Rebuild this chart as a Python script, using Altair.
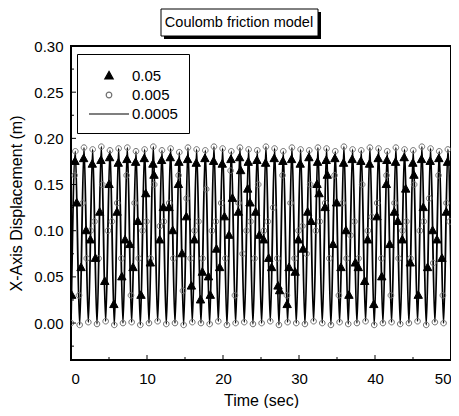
import altair as alt
import pandas as pd

SERIES = ["0.05", "0.005", "0.0005"]

# ---- 0.0005 series (continuous line): troughs and peaks
trough_t = [0.00, 1.14, 2.28, 3.42, 4.56, 5.70, 6.84, 7.98, 9.12, 10.26, 11.40, 12.54, 13.68, 14.82,
            15.96, 17.10, 18.24, 19.38, 20.52, 21.66, 22.80, 23.94, 25.08, 26.22, 27.36, 28.50, 29.64,
            30.78, 31.92, 33.06, 34.20, 35.34, 36.48, 37.62, 38.76, 39.90, 41.04, 42.18, 43.32, 44.46,
            45.60, 46.74, 47.88, 49.02]
trough_y = [0.000, -0.002, 0.001, -0.001, 0.002, -0.002, 0.000, 0.001, -0.002, 0.000, 0.002, -0.001,
            0.000, -0.002, 0.001, 0.000, -0.001, 0.002, -0.002, 0.000, 0.001, -0.001, 0.000, 0.002,
            -0.002, 0.001, 0.000, -0.001, 0.002, 0.000, -0.002, 0.001, -0.001, 0.000, 0.002, -0.002,
            0.000, 0.001, -0.001, 0.000, 0.002, -0.002, 0.001, 0.000]
peak_t = [0.57, 1.71, 2.85, 3.99, 5.13, 6.27, 7.41, 8.55, 9.69, 10.83, 11.97, 13.11, 14.25, 15.39,
          16.53, 17.67, 18.81, 19.95, 21.09, 22.23, 23.37, 24.51, 25.65, 26.79, 27.93, 29.07, 30.21,
          31.35, 32.49, 33.63, 34.77, 35.91, 37.05, 38.19, 39.33, 40.47, 41.61, 42.75, 43.89, 45.03,
          46.17, 47.31, 48.45, 49.59]
peak_y = [0.186, 0.190, 0.188, 0.191, 0.187, 0.189, 0.190, 0.186, 0.188, 0.191, 0.187, 0.189, 0.185,
          0.190, 0.188, 0.187, 0.191, 0.189, 0.186, 0.190, 0.188, 0.187, 0.191, 0.189, 0.186, 0.190,
          0.188, 0.187, 0.190, 0.189, 0.186, 0.191, 0.188, 0.187, 0.190, 0.189, 0.186, 0.190, 0.188,
          0.187, 0.191, 0.189, 0.186, 0.188]
end_t = [50.0]
end_y = [0.05]

# ---- 0.05 series (filled triangles)
tri_top_t = [0.52, 1.66, 2.80, 3.94, 5.08, 6.22, 7.36, 8.50, 9.64, 10.78, 11.92, 13.06, 14.20, 15.34,
             16.48, 17.62, 18.76, 19.90, 21.04, 22.18, 23.32, 24.46, 25.60, 26.74, 27.88, 29.02, 30.16,
             31.30, 32.44, 33.58, 34.72, 35.86, 37.00, 38.14, 39.28, 40.42, 41.56, 42.70, 43.84, 44.98,
             46.12, 47.26, 48.40, 49.54]
tri_top_y = [0.175, 0.178, 0.172, 0.176, 0.179, 0.173, 0.177, 0.174, 0.178, 0.172, 0.176, 0.179, 0.174,
             0.177, 0.173, 0.178, 0.175, 0.172, 0.177, 0.179, 0.174, 0.176, 0.173, 0.178, 0.175, 0.177,
             0.172, 0.179, 0.174, 0.176, 0.178, 0.173, 0.177, 0.175, 0.172, 0.178, 0.176, 0.174, 0.179,
             0.173, 0.177, 0.175, 0.178, 0.174]
tri_desc_t = [0.75, 1.98, 3.21, 4.44, 5.64, 6.69, 7.74, 8.79, 9.84, 10.92, 12.15, 13.38, 14.61, 15.84,
              17.04, 18.09, 19.14, 20.19, 21.24, 22.32, 23.55, 24.78, 26.01, 27.24, 28.44, 29.49, 30.54,
              31.59, 32.64, 33.72, 34.95, 36.18, 37.41, 38.64, 39.84, 40.89, 41.94, 42.99, 44.04, 45.12,
              46.35, 47.58, 48.81]
tri_desc_y = [0.130, 0.100, 0.070, 0.045, 0.020, 0.050, 0.085, 0.110, 0.140, 0.160,
              0.125, 0.100, 0.075, 0.040, 0.025, 0.050, 0.080, 0.115, 0.135, 0.165,
              0.130, 0.095, 0.070, 0.040, 0.020, 0.055, 0.080, 0.110, 0.140, 0.160,
              0.130, 0.100, 0.065, 0.045, 0.020, 0.050, 0.085, 0.110, 0.145, 0.160,
              0.125, 0.100, 0.070]
tri_asc_t = [0.09, 1.32, 2.55, 3.78, 5.01, 6.06, 7.11, 8.16, 9.21, 10.44, 11.67, 12.90, 14.13, 15.18,
             16.23, 17.28, 18.33, 19.56, 20.79, 22.02, 23.25, 24.30, 25.35, 26.40, 27.45, 28.68, 29.91,
             31.14, 32.37, 33.42, 34.47, 35.52, 36.57, 37.80, 39.03, 40.26, 41.49, 42.54, 43.59, 44.64,
             45.69, 46.92, 48.15, 49.38]
tri_asc_y = [0.030, 0.060, 0.090, 0.120, 0.150, 0.120, 0.090, 0.060,
             0.030, 0.065, 0.090, 0.125, 0.150, 0.115, 0.090, 0.055,
             0.030, 0.060, 0.095, 0.120, 0.145, 0.120, 0.090, 0.060,
             0.035, 0.060, 0.090, 0.120, 0.150, 0.125, 0.085, 0.060,
             0.030, 0.060, 0.090, 0.115, 0.150, 0.120, 0.090, 0.065,
             0.030, 0.060, 0.090, 0.120]

# ---- 0.005 series (open circles)
circ_asc_t = [0.48, 1.53, 2.58, 3.63, 4.86, 6.09, 7.32, 8.37, 9.42, 10.47, 11.70, 12.93, 14.16, 15.21,
              16.26, 17.31, 18.54, 19.77, 21.00, 22.05, 23.10, 24.15, 25.38, 26.61, 27.84, 28.89, 29.94,
              30.99, 32.22, 33.45, 34.68, 35.73, 36.78, 37.83, 39.06, 40.29, 41.52, 42.57, 43.62, 44.67,
              45.90, 47.13, 48.36, 49.41]
circ_asc_y = [0.160, 0.130, 0.100, 0.070, 0.100, 0.130, 0.160, 0.130, 0.100, 0.070, 0.105, 0.130,
              0.160, 0.135, 0.100, 0.070, 0.100, 0.130, 0.165, 0.130, 0.100, 0.070, 0.100, 0.125,
              0.160, 0.130, 0.100, 0.075, 0.100, 0.130, 0.160, 0.130, 0.095, 0.070, 0.100, 0.130,
              0.160, 0.130, 0.100, 0.070, 0.100, 0.135, 0.160, 0.130]
circ_desc_t = [1.05, 2.07, 3.09, 4.11, 5.37, 6.63, 7.89, 8.91, 9.93, 10.95, 12.21, 13.47, 14.73, 15.75,
               16.77, 17.79, 19.05, 20.31, 21.57, 22.59, 23.61, 24.63, 25.89, 27.15, 28.41, 29.43, 30.45,
               31.47, 32.73, 33.99, 35.25, 36.27, 37.29, 38.31, 39.57, 40.83, 42.09, 43.11, 44.13, 45.15,
               46.41, 47.67, 48.93, 49.83]
circ_desc_y = [0.030, 0.070, 0.110, 0.150, 0.110, 0.070, 0.030, 0.070, 0.110, 0.150, 0.110, 0.070,
               0.035, 0.070, 0.110, 0.145, 0.110, 0.070, 0.030, 0.075, 0.110, 0.150, 0.110, 0.070,
               0.030, 0.070, 0.105, 0.150, 0.110, 0.070, 0.030, 0.070, 0.110, 0.150, 0.115, 0.070,
               0.030, 0.070, 0.110, 0.150, 0.110, 0.065, 0.030, 0.110]

# ---- axis ticks
x_major = [0, 10, 20, 30, 40, 50]
x_minor = [5, 15, 25, 35, 45]
y_major = [0.00, 0.05, 0.10, 0.15, 0.20, 0.25, 0.30]
y_minor = [-0.025, 0.025, 0.075, 0.125, 0.175, 0.225, 0.275]

TITLE = "Coulomb friction model"
FONT = "Liberation Sans"
W, H = 380, 314

line_df = pd.DataFrame({"t": trough_t + peak_t + end_t,
                        "y": trough_y + peak_y + end_y}).sort_values("t")

pts_df = pd.concat([
    pd.DataFrame({"t": peak_t, "y": peak_y, "series": "0.005"}),
    pd.DataFrame({"t": trough_t, "y": trough_y, "series": "0.005"}),
    pd.DataFrame({"t": circ_asc_t, "y": circ_asc_y, "series": "0.005"}),
    pd.DataFrame({"t": circ_desc_t, "y": circ_desc_y, "series": "0.005"}),
    pd.DataFrame({"t": tri_top_t, "y": tri_top_y, "series": "0.05"}),
    pd.DataFrame({"t": tri_desc_t, "y": tri_desc_y, "series": "0.05"}),
    pd.DataFrame({"t": tri_asc_t, "y": tri_asc_y, "series": "0.05"}),
], ignore_index=True)

x_scale = alt.Scale(domain=[0, 50], nice=False, zero=False)
y_scale = alt.Scale(domain=[-0.04, 0.30], nice=False, zero=False)
x_axis = alt.Axis(title="Time (sec)", values=x_major, format="d", labelPadding=11, titlePadding=6)
y_axis = alt.Axis(title="X-Axis Displacement (m)", values=y_major, format=".2f",
                  labelPadding=8, titlePadding=9)

# symbol shapes drawn at size 400 (unit = 10 px)
TRI = "M0,-0.46L0.42,0.3L-0.42,0.3Z"
CIRC = "M0.28,0A0.28,0.28,0,1,1,-0.28,0A0.28,0.28,0,1,1,0.28,0Z"
DASH = "M-2,0L2,0"

leg = alt.Legend(title=None, orient="none", legendX=6, legendY=8,
                 fillColor="white", strokeColor="black", padding=11,
                 symbolOffset=10, labelOffset=12, rowPadding=0, symbolSize=400,
                 labelFont=FONT, labelFontSize=15, labelColor="black",
                 symbolStrokeWidth=1.2)

line = alt.Chart(line_df).mark_line(color="black", strokeWidth=1.8,
                                    interpolate="monotone", clip=True).encode(
    x=alt.X("t:Q", scale=x_scale, axis=x_axis),
    y=alt.Y("y:Q", scale=y_scale, axis=y_axis),
)

points = alt.Chart(pts_df).mark_point(opacity=1, strokeWidth=1, size=400, clip=True).encode(
    x=alt.X("t:Q", scale=x_scale, axis=x_axis),
    y=alt.Y("y:Q", scale=y_scale, axis=y_axis),
    shape=alt.Shape("series:N", scale=alt.Scale(domain=SERIES, range=[TRI, CIRC, DASH]), legend=leg),
    fill=alt.Fill("series:N", scale=alt.Scale(domain=SERIES,
                  range=["black", "transparent", "transparent"]), legend=leg),
    stroke=alt.Stroke("series:N", scale=alt.Scale(domain=SERIES,
                      range=["black", "#707070", "black"]), legend=leg),
)

xt_major = alt.Chart(pd.DataFrame({"t": x_major})).mark_rule(color="black", strokeWidth=1).encode(
    x=alt.X("t:Q", scale=x_scale, axis=x_axis), y=alt.value(H), y2=alt.value(H - 5))
xt_minor = alt.Chart(pd.DataFrame({"t": x_minor})).mark_rule(color="black", strokeWidth=1).encode(
    x=alt.X("t:Q", scale=x_scale, axis=x_axis), y=alt.value(H), y2=alt.value(H - 3))
yt_major = alt.Chart(pd.DataFrame({"y": y_major})).mark_rule(color="black", strokeWidth=1).encode(
    y=alt.Y("y:Q", scale=y_scale, axis=y_axis), x=alt.value(0), x2=alt.value(5))
yt_minor = alt.Chart(pd.DataFrame({"y": y_minor})).mark_rule(color="black", strokeWidth=1).encode(
    y=alt.Y("y:Q", scale=y_scale, axis=y_axis), x=alt.value(0), x2=alt.value(3))

dummy = pd.DataFrame({"a": [0]})
shadow = alt.Chart(dummy).mark_rect(color="black").encode(
    x=alt.value(93), x2=alt.value(250), y=alt.value(-34), y2=alt.value(-7))
box = alt.Chart(dummy).mark_rect(fill="white", stroke="black", strokeWidth=1).encode(
    x=alt.value(90), x2=alt.value(247), y=alt.value(-37), y2=alt.value(-10))
title = alt.Chart(dummy).mark_text(font=FONT, fontSize=14.5, color="black", align="center",
                                   baseline="middle").encode(
    x=alt.value(168), y=alt.value(-23), text=alt.value(TITLE))

chart = alt.layer(shadow, box, title, line, points, xt_major, xt_minor, yt_major, yt_minor).properties(
    width=W, height=H,
    padding={"left": 63, "top": 38, "right": 0, "bottom": 48},
    autosize=alt.AutoSizeParams(type="none"),
).configure_view(stroke="black", strokeWidth=2).configure_axis(
    labelFont=FONT, labelFontSize=15, labelColor="black",
    titleFont=FONT, titleFontSize=16, titleFontWeight="normal", titleColor="black",
    grid=False, ticks=False, tickSize=0, domain=False,
)

chart.save("out.html", embed_options={"renderer": "svg", "actions": False})
